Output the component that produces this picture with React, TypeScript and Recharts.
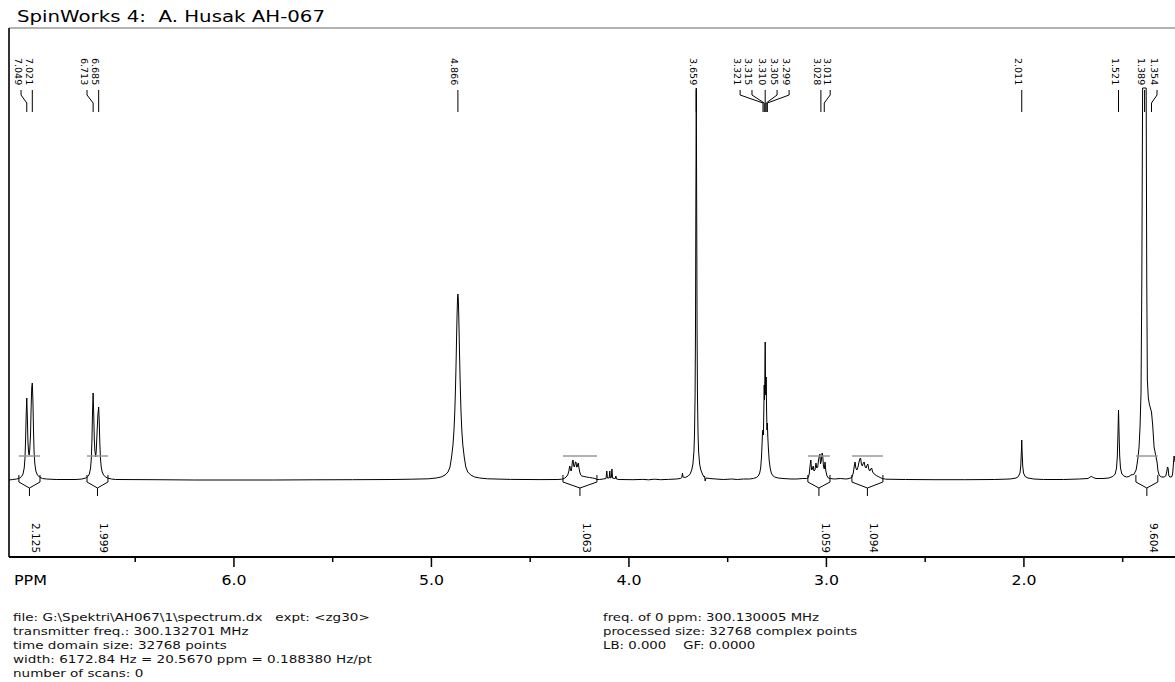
import { LineChart, Line, XAxis, YAxis, ReferenceLine, ReferenceDot } from "recharts"

// ppm window and intensity window (intensity in arbitrary units, baseline = 0)
const PPM_LEFT = 7.139
const PPM_RIGHT = 1.235
const Y_MIN = -77
const Y_MAX = 452

// [ppm, intensity], left to right
const SPECTRUM: [number, number][] = [
  [7.139, 0], [7.12, 0.5], [7.1, 1], [7.085, 2], [7.075, 3.5], [7.068, 6], [7.062, 12], [7.058, 22],
  [7.055, 40], [7.052, 65], [7.049, 82], [7.046, 62], [7.043, 38], [7.04, 28], [7.037, 25], [7.034, 30],
  [7.03, 45], [7.027, 72], [7.024, 92], [7.021, 97], [7.018, 80], [7.015, 50], [7.012, 28], [7.008, 16],
  [7.003, 9], [6.995, 5], [6.985, 3], [6.97, 1.5], [6.95, 1], [6.9, 0.5], [6.8, 0.5], [6.77, 1],
  [6.75, 2], [6.74, 3.5], [6.732, 6], [6.726, 12], [6.722, 22], [6.719, 40], [6.716, 68], [6.713, 87],
  [6.71, 66], [6.707, 40], [6.704, 29], [6.7, 23], [6.697, 30], [6.693, 48], [6.689, 65], [6.685, 73],
  [6.682, 58], [6.679, 36], [6.676, 22], [6.672, 13], [6.667, 8], [6.66, 5], [6.65, 3], [6.64, 2],
  [6.62, 1], [6.6, 0.5], [6.4, 0.3], [6.2, 0], [6.0, 0], [5.8, 0], [5.6, 0.2], [5.4, 0.3],
  [5.2, 0.5], [5.1, 0.8], [5.016, 1.2], [4.976, 2], [4.951, 3], [4.931, 5], [4.916, 8], [4.906, 13],
  [4.898, 23], [4.891, 35], [4.886, 49], [4.882, 67], [4.879, 86], [4.876, 110], [4.874, 129], [4.872, 149],
  [4.87, 167], [4.868, 181], [4.866, 186], [4.864, 181], [4.862, 167], [4.86, 149], [4.858, 129], [4.856, 110],
  [4.853, 86], [4.85, 67], [4.846, 49], [4.841, 35], [4.834, 23], [4.826, 13], [4.816, 8], [4.801, 5],
  [4.781, 3], [4.756, 2], [4.716, 1.2], [4.6, 0.6], [4.45, 0.4], [4.36, 0.5],
  [4.34, 0.8], [4.328, 1.5], [4.318, 3], [4.31, 5], [4.304, 9], [4.301, 13], [4.299, 14], [4.296, 10],
  [4.292, 9], [4.289, 13], [4.286, 19], [4.283, 20], [4.28, 15], [4.277, 13], [4.274, 15], [4.271, 18],
  [4.268, 18], [4.265, 13], [4.262, 13], [4.259, 16], [4.256, 17], [4.253, 12], [4.249, 8], [4.244, 5],
  [4.238, 4], [4.228, 3.5], [4.215, 3], [4.2, 2.5], [4.185, 2], [4.172, 1.5], [4.162, 0.5], [4.15, 0.5],
  [4.13, 1], [4.116, 1.5], [4.112, 9], [4.109, 2], [4.1, 2], [4.097, 9], [4.094, 2], [4.089, 2.5],
  [4.086, 11], [4.083, 2], [4.075, 1.5], [4.069, 1.5], [4.066, 4], [4.063, 1], [4.05, 0.5], [3.98, 0.3],
  [3.93, 0.6], [3.9, 0.2], [3.87, 0.8], [3.84, 0.3], [3.8, 0.6], [3.76, 1], [3.74, 1.5], [3.732, 2.5],
  [3.729, 7], [3.726, 3], [3.715, 2.5], [3.7, 4], [3.69, 6], [3.682, 10], [3.676, 16], [3.671, 28],
  [3.668, 45], [3.665, 85], [3.663, 150], [3.661, 280], [3.659, 392], [3.657, 280], [3.655, 150], [3.653, 85],
  [3.65, 45], [3.647, 28], [3.642, 16], [3.636, 10], [3.628, 6], [3.62, 3], [3.617, 4], [3.614, -1],
  [3.61, 2], [3.59, 1.5], [3.56, 1], [3.52, 0.5], [3.48, 1], [3.45, 0.5], [3.42, 1], [3.39, 1],
  [3.37, 1.5], [3.355, 2.5], [3.345, 4], [3.338, 7], [3.333, 12], [3.329, 22], [3.326, 35], [3.3235, 48],
  [3.321, 50], [3.319, 45], [3.317, 70], [3.315, 95], [3.3135, 80], [3.312, 100], [3.31, 138], [3.3085, 100],
  [3.307, 85], [3.305, 103], [3.303, 70], [3.301, 50], [3.299, 57], [3.297, 44], [3.294, 32], [3.29, 20],
  [3.285, 12], [3.279, 7], [3.272, 4.5], [3.262, 3], [3.245, 2], [3.22, 1.5],
  [3.18, 1], [3.15, 1], [3.12, 1.5], [3.1, 1.5], [3.092, 2.5], [3.087, 6], [3.083, 14], [3.079, 20],
  [3.075, 10], [3.071, 11], [3.067, 14], [3.063, 9], [3.058, 10], [3.053, 17], [3.049, 12], [3.044, 13],
  [3.04, 20], [3.036, 24], [3.033, 26], [3.03, 16], [3.026, 19], [3.022, 27], [3.019, 25], [3.015, 14],
  [3.011, 11], [3.007, 18], [3.003, 9], [2.997, 4], [2.99, 2], [2.98, 1.5], [2.96, 1], [2.93, 1.5],
  [2.9, 1], [2.885, 1.5], [2.872, 2.5], [2.864, 7], [2.859, 14], [2.855, 18], [2.851, 12], [2.846, 10],
  [2.84, 13], [2.835, 18], [2.831, 21], [2.827, 22], [2.823, 16], [2.818, 14], [2.813, 17], [2.809, 18],
  [2.804, 13], [2.799, 12], [2.794, 15], [2.79, 16], [2.786, 11], [2.781, 9], [2.776, 11], [2.771, 12],
  [2.766, 8], [2.758, 6], [2.748, 4.5], [2.738, 3.5], [2.728, 2.5], [2.718, 1.5], [2.7, 0.8], [2.6, 0.5],
  [2.45, 0.3], [2.3, 0.3], [2.15, 0.5], [2.07, 1], [2.04, 2], [2.028, 3.5], [2.02, 7], [2.016, 14],
  [2.013, 28], [2.011, 40], [2.009, 28], [2.006, 14], [2.002, 7], [1.994, 3.5], [1.98, 2], [1.95, 1],
  [1.9, 0.5], [1.8, 0.5], [1.72, 1], [1.675, 1.5], [1.665, 3], [1.657, 3.5], [1.649, 2.5], [1.635, 1.5],
  [1.6, 1.5], [1.57, 2], [1.55, 3.5], [1.538, 6], [1.531, 12], [1.527, 24], [1.524, 45], [1.521, 70],
  [1.518, 45], [1.515, 24], [1.511, 12], [1.504, 6], [1.494, 4], [1.48, 3], [1.468, 3.5], [1.458, 5],
  [1.452, 5.5], [1.447, 5], [1.442, 6], [1.437, 8], [1.432, 10], [1.427, 16], [1.422, 23], [1.417, 33],
  [1.412, 53], [1.407, 87], [1.403, 200], [1.399, 392], [1.381, 392], [1.378, 200], [1.375, 100], [1.37, 82],
  [1.365, 76], [1.361, 73], [1.354, 68], [1.348, 55], [1.341, 33], [1.333, 25], [1.326, 18], [1.321, 9],
  [1.315, 5], [1.305, 3], [1.29, 3], [1.282, 4], [1.277, 8], [1.273, 13], [1.27, 12], [1.266, 4],
  [1.26, 3], [1.252, 3], [1.247, 6], [1.243, 16], [1.24, 24], [1.237, 23], [1.235, 18],
]

const MAJOR_TICKS = [6, 5, 4, 3, 2]
const MINOR_TICKS = [6.5, 5.5, 4.5, 3.5, 2.5, 1.5]

// [label, peak ppm, ppm where the label sits]
const PEAK_LABELS: [string, number, number][] = [
  ["7.049", 7.049, 7.078],
  ["7.021", 7.021, 7.021],
  ["6.713", 6.713, 6.744],
  ["6.685", 6.685, 6.685],
  ["4.866", 4.866, 4.866],
  ["3.659", 3.659, 3.659],
  ["3.321", 3.321, 3.437],
  ["3.315", 3.315, 3.377],
  ["3.310", 3.31, 3.31],
  ["3.305", 3.305, 3.25],
  ["3.299", 3.299, 3.189],
  ["3.028", 3.028, 3.028],
  ["3.011", 3.011, 2.981],
  ["2.011", 2.011, 2.011],
  ["1.521", 1.521, 1.521],
  ["1.389", 1.389, 1.389],
  ["1.354", 1.354, 1.326],
]

// [from ppm, to ppm, integral]
const INTEGRALS: [number, number, string][] = [
  [7.089, 6.982, "2.125"],
  [6.744, 6.638, "1.999"],
  [4.334, 4.162, "1.063"],
  [3.094, 2.982, "1.059"],
  [2.871, 2.714, "1.094"],
  [1.433, 1.322, "9.604"],
]

const TITLE = "SpinWorks 4:  A. Husak AH-067"
const INFO_LEFT = [
  "file: G:\\Spektri\\AH067\\1\\spectrum.dx   expt: <zg30>",
  "transmitter freq.: 300.132701 MHz",
  "time domain size: 32768 points",
  "width: 6172.84 Hz = 20.5670 ppm = 0.188380 Hz/pt",
  "number of scans: 0",
]
const INFO_RIGHT = [
  "freq. of 0 ppm: 300.130005 MHz",
  "processed size: 32768 complex points",
  "LB: 0.000    GF: 0.0000",
]

const FONT = "DejaVu Sans, Verdana, sans-serif"

// vertical levels (intensity units) for the annotations
const LABEL_TOP = 422
const CONN_TOP = 390
const CONN_BEND1 = 385
const CONN_BEND2 = 377
const CONN_BOTTOM = 368
const INT_BAR = 24
const INT_END_TOP = 5
const INT_END_BOTTOM = -2
const INT_APEX = -8
const INT_STEM = -16
const INT_TEXT = -43

function PpmTick({ x, y, payload }: any) {
  const major = MAJOR_TICKS.includes(payload.value)
  return (
    <g>
      <line x1={x} x2={x} y1={y} y2={y + (major ? 10 : 5)} stroke="#000" strokeWidth={1.5} />
      {major && (
        <text
          x={x}
          y={y + 28}
          textAnchor="middle"
          fontSize={14}
          fontFamily={FONT}
          textLength={25}
          lengthAdjust="spacingAndGlyphs"
          fill="#000"
        >
          {payload.value.toFixed(1)}
        </text>
      )}
    </g>
  )
}

function rotatedText(text: string, size: number, dx: number) {
  return (p: any) => (
    <text
      x={p.cx + dx}
      y={p.cy}
      transform={`rotate(90, ${p.cx + dx}, ${p.cy})`}
      dominantBaseline="central"
      fontSize={size}
      fontFamily={FONT}
      fill="#000"
    >
      {text}
    </text>
  )
}

export default function App() {
  const data = SPECTRUM.map(([ppm, y]) => ({ ppm, y }))

  const peakMarks = PEAK_LABELS.flatMap(([text, peak, at], i) => {
    const items = [
      <ReferenceDot
        key={`pl-${i}`}
        x={at}
        y={LABEL_TOP}
        r={0}
        ifOverflow="visible"
        shape={rotatedText(text, 9.5, -3)}
      />,
    ]
    if (Math.abs(peak - at) < 0.004) {
      items.push(
        <ReferenceLine
          key={`pc-${i}`}
          segment={[{ x: peak, y: CONN_TOP }, { x: peak, y: CONN_BOTTOM }]}
          stroke="#000"
          ifOverflow="visible"
        />
      )
    } else {
      items.push(
        <ReferenceLine
          key={`pa-${i}`}
          segment={[{ x: at, y: CONN_TOP }, { x: at, y: CONN_BEND1 }]}
          stroke="#000"
          ifOverflow="visible"
        />,
        <ReferenceLine
          key={`pb-${i}`}
          segment={[{ x: at, y: CONN_BEND1 }, { x: peak, y: CONN_BEND2 }]}
          stroke="#000"
          ifOverflow="visible"
        />,
        <ReferenceLine
          key={`pd-${i}`}
          segment={[{ x: peak, y: CONN_BEND2 }, { x: peak, y: CONN_BOTTOM }]}
          stroke="#000"
          ifOverflow="visible"
        />
      )
    }
    return items
  })

  const integralMarks = INTEGRALS.flatMap(([a, b, value], i) => {
    const mid = (a + b) / 2
    return [
      <ReferenceLine key={`ib-${i}`} segment={[{ x: a, y: INT_BAR }, { x: b, y: INT_BAR }]} stroke="#999" strokeWidth={1.5} ifOverflow="visible" />,
      <ReferenceLine key={`il-${i}`} segment={[{ x: a, y: INT_END_TOP }, { x: a, y: INT_END_BOTTOM }]} stroke="#000" ifOverflow="visible" />,
      <ReferenceLine key={`ir-${i}`} segment={[{ x: b, y: INT_END_TOP }, { x: b, y: INT_END_BOTTOM }]} stroke="#000" ifOverflow="visible" />,
      <ReferenceLine key={`dl-${i}`} segment={[{ x: a, y: INT_END_BOTTOM }, { x: mid, y: INT_APEX }]} stroke="#000" ifOverflow="visible" />,
      <ReferenceLine key={`dr-${i}`} segment={[{ x: b, y: INT_END_BOTTOM }, { x: mid, y: INT_APEX }]} stroke="#000" ifOverflow="visible" />,
      <ReferenceLine key={`is-${i}`} segment={[{ x: mid, y: INT_APEX }, { x: mid, y: INT_STEM }]} stroke="#000" ifOverflow="visible" />,
      <ReferenceDot key={`it-${i}`} x={mid} y={INT_TEXT} r={0} ifOverflow="visible" shape={rotatedText(value, 10.5, 7)} />,
    ]
  })

  return (
    <div style={{ position: "absolute", left: 0, top: 0, width: 1175, height: 682, background: "#fff" }}>
      <LineChart width={1175} height={682} data={data} margin={{ top: 28, right: 0, bottom: 85, left: 9 }}>
        <XAxis
          type="number"
          dataKey="ppm"
          domain={[PPM_RIGHT, PPM_LEFT]}
          reversed
          allowDataOverflow
          ticks={[...MAJOR_TICKS, ...MINOR_TICKS]}
          interval={0}
          tick={<PpmTick />}
          tickLine={false}
          tickSize={0}
          tickMargin={0}
          height={40}
          axisLine={{ stroke: "#000", strokeWidth: 2 }}
          label={{
            content: (p: any) => (
              <text
                x={p.viewBox.x + 5}
                y={p.viewBox.y + 28}
                fontSize={14}
                fontFamily={FONT}
                textLength={33}
                lengthAdjust="spacingAndGlyphs"
                fill="#000"
              >
                PPM
              </text>
            ),
          }}
        />
        <YAxis hide type="number" domain={[Y_MIN, Y_MAX]} allowDataOverflow />
        <ReferenceLine y={Y_MAX} stroke="#666" strokeWidth={1} ifOverflow="visible" />
        <ReferenceLine x={PPM_LEFT} stroke="#333" strokeWidth={2} ifOverflow="visible" />
        <Line
          type="linear"
          dataKey="y"
          stroke="#000"
          strokeWidth={1}
          dot={false}
          isAnimationActive={false}
        />
        {integralMarks}
        {peakMarks}
      </LineChart>
      <svg
        width={1175}
        height={682}
        style={{ position: "absolute", left: 0, top: 0, pointerEvents: "none" }}
      >
        <text
          x={17}
          y={22}
          fontSize={15}
          fontFamily={FONT}
          textLength={308}
          lengthAdjust="spacingAndGlyphs"
          style={{ whiteSpace: "pre" }}
          fill="#000"
        >
          {TITLE}
        </text>
        <g transform="translate(13 0) scale(1.23 1)">
          {INFO_LEFT.map((line, i) => (
            <text key={i} x={0} y={621 + i * 14} fontSize={11} fontFamily={FONT} style={{ whiteSpace: "pre" }} fill="#111">
              {line}
            </text>
          ))}
        </g>
        <g transform="translate(603 0) scale(1.21 1)">
          {INFO_RIGHT.map((line, i) => (
            <text key={i} x={0} y={621 + i * 14} fontSize={11} fontFamily={FONT} style={{ whiteSpace: "pre" }} fill="#111">
              {line}
            </text>
          ))}
        </g>
      </svg>
    </div>
  )
}
